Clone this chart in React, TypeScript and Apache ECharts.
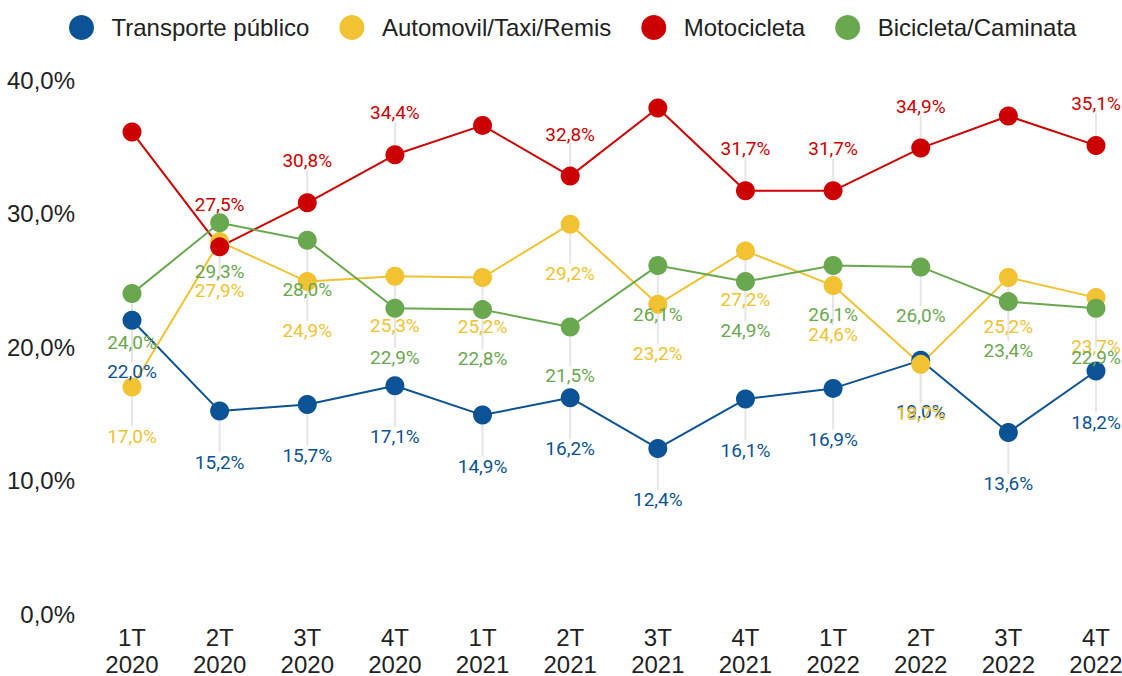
import React, { useEffect, useRef } from "react";
import * as echarts from "echarts";

const categories = [
  "1T\n2020", "2T\n2020", "3T\n2020", "4T\n2020",
  "1T\n2021", "2T\n2021", "3T\n2021", "4T\n2021",
  "1T\n2022", "2T\n2022", "3T\n2022", "4T\n2022",
];
const seriesNames = ["Transporte público", "Automovil/Taxi/Remis", "Motocicleta", "Bicicleta/Caminata"];
const transporte = [22.0, 15.2, 15.7, 17.1, 14.9, 16.2, 12.4, 16.1, 16.9, 19.0, 13.6, 18.2];
const automovil = [17.0, 27.9, 24.9, 25.3, 25.2, 29.2, 23.2, 27.2, 24.6, 18.7, 25.2, 23.7];
const motocicleta = [36.1, 27.5, 30.8, 34.4, 36.6, 32.8, 37.9, 31.7, 31.7, 34.9, 37.3, 35.1];
const bicicleta = [24.0, 29.3, 28.0, 22.9, 22.8, 21.5, 26.1, 24.9, 26.1, 26.0, 23.4, 22.9];
// points whose value label is not shown in the original
const motoUnlabeled = [0, 4, 6, 10];
const colors = ["#0b5394", "#f1c232", "#cc0000", "#6aa84f"];

const fmt = (v: number) => v.toFixed(1).replace(".", ",") + "%";

function makeSeries(name: string, values: number[], color: string, dy: number, hidden: number[] = []) {
  return {
    name,
    type: "line",
    data: values.map((v, i) => (hidden.includes(i) ? { value: v, label: { show: false } } : v)),
    symbol: "circle",
    symbolSize: 19,
    showSymbol: true,
    lineStyle: { color, width: 2 },
    itemStyle: { color },
    label: {
      show: true,
      position: "inside",
      color,
      fontSize: 19,
      fontFamily: "Roboto",
      formatter: (p: any) => fmt(typeof p.value === "number" ? p.value : Number(p.value)),
    },
    labelLayout: { dy },
    labelLine: { show: true, lineStyle: { color: "#e6e6e6", width: 2 } },
    emphasis: { disabled: true },
  };
}

export default function App() {
  const ref = useRef<HTMLDivElement>(null);
  useEffect(() => {
    document.body.style.margin = "0";
    if (!ref.current) return;
    const chart = echarts.init(ref.current, null, { renderer: "svg" });
    chart.setOption({
      animation: false,
      backgroundColor: "#ffffff",
      color: colors,
      legend: {
        data: seriesNames,
        left: 64,
        top: 10,
        icon: "circle",
        itemWidth: 50,
        itemHeight: 25,
        itemGap: 30,
        textStyle: { fontSize: 24, color: "#222222", fontFamily: "Liberation Sans" },
      },
      grid: { left: 132, right: 26, top: 80, bottom: 62, outerBoundsMode: "none", containLabel: false },
      xAxis: {
        type: "category",
        data: categories,
        boundaryGap: false,
        axisLine: { show: false },
        axisTick: { show: false },
        splitLine: { show: false },
        axisLabel: {
          fontSize: 24,
          lineHeight: 27,
          color: "#222222",
          fontFamily: "Liberation Sans",
          margin: 10,
          interval: 0,
        },
      },
      yAxis: {
        type: "value",
        min: 0,
        max: 40,
        interval: 10,
        axisLine: { show: false },
        axisTick: { show: false },
        splitLine: { show: false },
        axisLabel: {
          fontSize: 24,
          color: "#222222",
          fontFamily: "Liberation Sans",
          margin: 57,
          formatter: (v: number) => fmt(v),
        },
      },
      series: [
        makeSeries(seriesNames[0], transporte, colors[0], 51),
        makeSeries(seriesNames[1], automovil, colors[1], 49),
        makeSeries(seriesNames[2], motocicleta, colors[2], -42, motoUnlabeled),
        makeSeries(seriesNames[3], bicicleta, colors[3], 49),
      ],
    });
    return () => chart.dispose();
  }, []);
  return <div ref={ref} style={{ width: 1122, height: 676 }} />;
}
